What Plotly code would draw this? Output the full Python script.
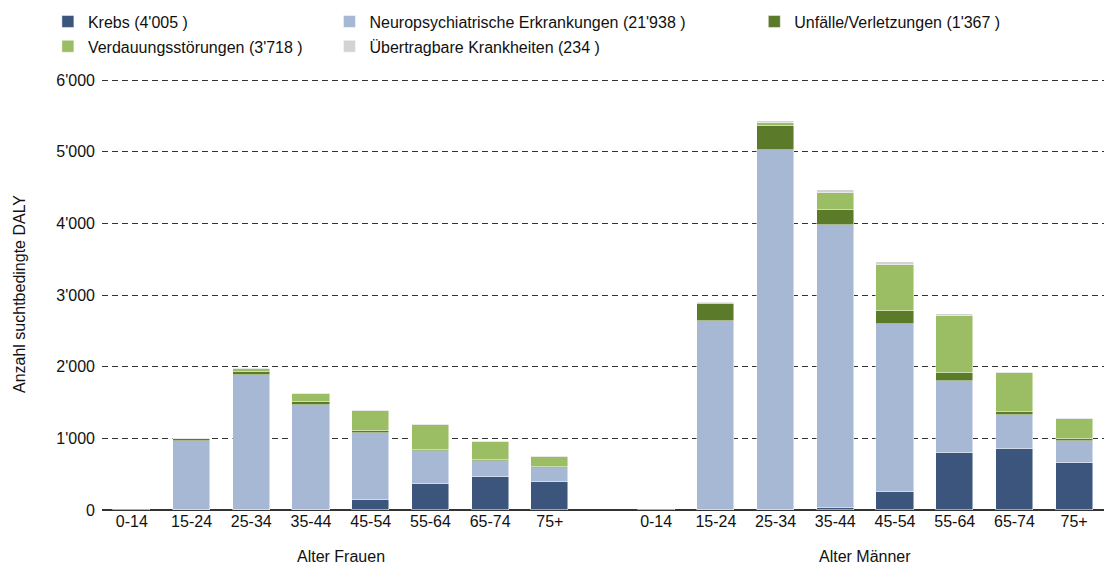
import plotly.graph_objects as go

# Age groups for the two sexes
age_groups = ["0-14", "15-24", "25-34", "35-44", "45-54", "55-64", "65-74", "75+"]
group_labels = ["Alter Frauen", "Alter Männer"]

# Addiction-related DALY per cause, women then men (same age order)
krebs_f = [0, 2, 0, 0, 144, 363, 460, 391]
krebs_m = [0, 0, 3, 30, 251, 791, 851, 656]
neuro_f = [5, 965, 1884, 1470, 935, 460, 228, 195]
neuro_m = [5, 2645, 5020, 3942, 2344, 1014, 470, 302]
unfall_f = [5, 25, 45, 33, 23, 18, 14, 18]
unfall_m = [15, 235, 340, 220, 182, 111, 46, 37]
verd_f = [0, 5, 38, 112, 279, 345, 251, 140]
verd_m = [0, 5, 42, 237, 646, 791, 545, 279]
uebertr_f = [1, 5, 12, 15, 14, 12, 8, 10]
uebertr_m = [0, 12, 20, 35, 45, 22, 14, 10]

series_names = [
    "Krebs (4'005 )",
    "Neuropsychiatrische Erkrankungen (21'938 )",
    "Unfälle/Verletzungen (1'367 )",
    "Verdauungsstörungen (3'718 )",
    "Übertragbare Krankheiten (234 )",
]
series_f = [krebs_f, neuro_f, unfall_f, verd_f, uebertr_f]
series_m = [krebs_m, neuro_m, unfall_m, verd_m, uebertr_m]
colors = ["#3b557c", "#a7b8d4", "#5b7a2a", "#9bbd63", "#d3d3d3"]
legend_ids = ["legend", "legend2", "legend3", "legend", "legend2"]

# x positions: women block, then a wider gap, then men block
men_offset = 8.78
x_f = [i for i in range(len(age_groups))]
x_m = [men_offset + i for i in range(len(age_groups))]
x_all = x_f + x_m

fig = go.Figure()
for k, (name, vf, vm, col, lg) in enumerate(zip(series_names, series_f, series_m, colors, legend_ids)):
    fig.add_trace(go.Bar(
        x=x_all,
        y=vf + vm,
        name=name,
        marker=dict(color=col, line=dict(color="rgba(255,255,255,0.6)", width=0.8)),
        width=0.62,
        legend=lg,
        legendgroup=f"g{k}",
    ))

font = dict(family="Liberation Sans, Arial, sans-serif", size=16, color="#111")
legend_common = dict(
    orientation="v", xanchor="left", yanchor="top", y=1.17,
    font=font, bgcolor="rgba(0,0,0,0)", itemclick=False, itemdoubleclick=False,
    traceorder="grouped", tracegroupgap=1,
)

fig.update_layout(
    width=1106, height=567,
    margin=dict(l=102, r=2, t=78, b=57),
    paper_bgcolor="white", plot_bgcolor="white",
    font=font,
    separators=".'",
    barmode="stack",
    bargap=0,
    showlegend=True,
    legend=dict(x=-0.054, **legend_common),
    legend2=dict(x=0.227, **legend_common),
    legend3=dict(x=0.651, **legend_common),
    xaxis=dict(
        range=[-0.5, men_offset + len(age_groups) - 0.5],
        tickvals=x_all,
        ticktext=age_groups + age_groups,
        showgrid=False, zeroline=False, showline=False,
        ticks="", tickfont=font,
    ),
    yaxis=dict(
        range=[0, 6030],
        tickvals=[0, 1000, 2000, 3000, 4000, 5000, 6000],
        tickformat=",d",
        showgrid=True, gridcolor="#333", gridwidth=1, griddash="6px,4px",
        zeroline=True, zerolinecolor="#333", zerolinewidth=2,
        showline=False, ticks="", tickfont=font, ticklabelstandoff=6,
        title=dict(text="Anzahl suchtbedingte DALY", font=font, standoff=26),
    ),
)

# Group captions under the age tick labels
centers = [sum(x_f) / len(x_f), sum(x_m) / len(x_m)]
for label, cx in zip(group_labels, centers):
    fig.add_annotation(
        x=cx, y=0, xref="x", yref="paper", yanchor="top",
        yshift=-36, text=label, showarrow=False, font=font,
    )

fig.write_html("out.html")
